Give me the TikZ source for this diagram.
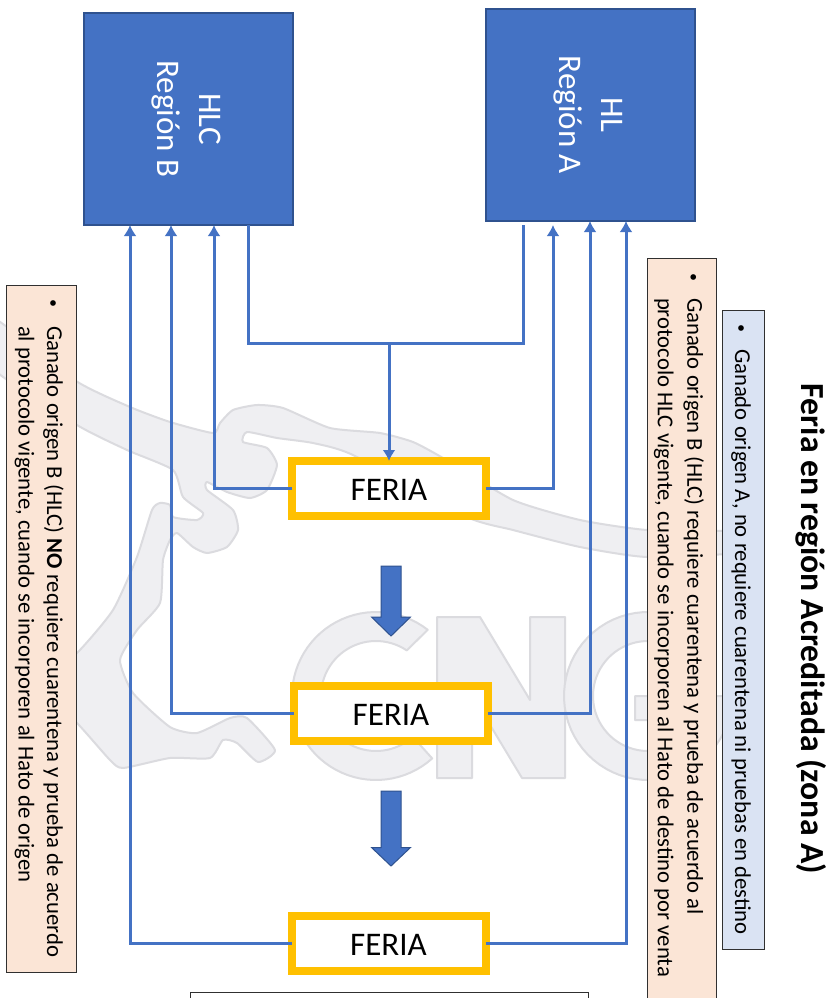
\documentclass[tikz,border=0pt]{standalone}
\usepackage{fontspec}
\setmainfont{Carlito}
\usetikzlibrary{arrows.meta}
\definecolor{bluefill}{HTML}{4472C4}
\definecolor{bluedark}{HTML}{2F528F}
\definecolor{feriayellow}{HTML}{FFC000}
\definecolor{peach}{HTML}{FBE5D6}
\definecolor{paleblue}{HTML}{DAE3F3}
\definecolor{wmfill}{HTML}{EFEFF2}
\definecolor{wmline}{HTML}{DBDBDF}
\definecolor{edgedark}{HTML}{303030}
\tikzset{
  herd/.style={draw=bluedark,fill=bluefill,line width=1.5pt,minimum width=212pt,minimum height=209pt,inner sep=0pt,outer sep=0pt,text=white,rotate=-90,align=center,font=\fontsize{33}{42}\selectfont},
  fair/.style={draw=feriayellow,fill=white,line width=8pt,minimum width=194pt,minimum height=55pt,inner sep=0pt,outer sep=0pt,font=\fontsize{33}{38}\selectfont},
  conn/.style={draw=bluefill,line width=3pt},
  connarrow/.style={conn,-{Latex[length=11pt,width=13pt]}},
  notepeach/.style={draw=edgedark,fill=peach,line width=0.9pt},
  noteblue/.style={draw=edgedark,fill=paleblue,line width=0.9pt},
  bigarrow/.style={draw=bluedark,fill=bluefill,line width=1pt},
  notetext/.style={rotate=-90,anchor=north west,inner sep=0pt,outer sep=0pt,align=left},
  wm/.style={draw=wmline,fill=wmfill,line width=2pt,line join=round},
}
\newcommand{\bulleted}[2]{\begin{tabular}{@{}p{#1}@{}l@{}}#2\end{tabular}}
\newcommand{\smallbullet}{\raisebox{1.5pt}{\fontsize{16}{16}\selectfont•}}
\newcommand{\fairlabel}{\raisebox{-1.5pt}[\height][0pt]{FERIA}}
\begin{document}
\begin{tikzpicture}[x=1pt,y=-1pt]
\clip (0,0) rectangle (831,998);
\fill[white] (0,0) rectangle (831,998);
% watermark map
\draw[wm] plot[smooth cycle,tension=0.35] coordinates {
 (-10,316) (76,381) (130,407) (170,422) (213,433) (220,423) (233,410) (257,405) (283,408) (330,428)
 (380,433) (413,442) (443,458) (513,500) (580,520) (647,530) (745,532)
 (745,552) (647,557) (580,547) (513,530) (467,517) (353,455) (313,443) (277,438) (247,432)
 (243,442) (267,448) (277,465) (267,490) (250,498) (227,492) (207,482) (207,490) (233,510)
 (238,530) (227,547) (207,553) (193,547) (177,533) (170,540) (163,560) (160,603) (137,630)
 (120,660) (133,693) (170,727) (197,733) (230,718) (247,718) (275,750) (258,762) (237,743)
 (223,740) (210,758) (170,758) (123,768) (110,760) (77,723) (40,690) (40,680) (77,653) (113,610)
 (137,557) (152,510) (160,503) (170,505) (173,517) (197,520) (203,513) (183,497) (173,470)
 (127,450) (77,425) (-10,366)};
% watermark letters
\draw[wm] plot[domain=-52:-312,samples=60] ({376+84*cos(\x)},{696+84*sin(\x)})
  -- plot[domain=-312:-56,samples=60] ({376+55*cos(\x)},{696+55*sin(\x)}) -- cycle;
\draw[wm] (437,617) -- (480,617) -- (530,700) -- (530,617) -- (565,617) -- (565,778) -- (522,778) -- (472,695) -- (472,778) -- (437,778) -- cycle;
\draw[wm] plot[domain=-52:-360,samples=60] ({648+84*cos(\x)},{696+84*sin(\x)})
  -- (635,696) -- (635,720) -- (690,720)
  -- plot[domain=-335:-56,samples=60] ({648+55*cos(\x)},{696+55*sin(\x)}) -- cycle;
% note boxes
\path[notepeach] (6,285) rectangle (76,972);
\path[notepeach] (647,258) rectangle (716,1010);
\path[noteblue] (722,310) rectangle (764,949);
\draw[draw=edgedark,fill=white,line width=0.9pt] (190,992) rectangle (588,1012);
% text of notes
\node[notetext] (noteB) at (67,299) {\fontsize{22.7}{28.5}\selectfont\bulleted{27pt}{\smallbullet & Ganado origen B (HLC) \textbf{NO} requiere cuarentena y prueba de acuerdo\\ & al protocolo vigente, cuando se incorporen al Hato de origen}};
\node[notetext] (noteBA) at (708,273) {\fontsize{22.7}{29.5}\selectfont\bulleted{25pt}{\smallbullet & Ganado origen B (HLC) requiere cuarentena y prueba de acuerdo al\\ & protocolo HLC vigente, cuando se incorporen al Hato de destino por venta}};
\node[notetext] (noteA) at (752,324) {\fontsize{22.7}{24}\selectfont\bulleted{25pt}{\smallbullet & Ganado origen A, no requiere cuarentena ni pruebas en destino}};
\node[rotate=-90,anchor=center,inner sep=0pt,font=\fontsize{33.7}{38}\selectfont\bfseries] (title) at (811,629) {Feria en región Acreditada (zona A)};
% herd boxes
\node[herd] (hlc) at (188.5,119) {\rule{0pt}{25pt}HLC\\Región B};
\node[herd] (hl) at (590.5,115) {\rule{0pt}{25pt}HL\\Región A};
% ferias
\node[fair] (f1) at (389,488.5) {\fairlabel};
\node[fair] (f2) at (391,713.5) {\fairlabel};
\node[fair] (f3) at (388.5,943.5) {\fairlabel};
% connector ends
\coordinate (outB) at (248,225);
\coordinate (outA) at (523,225);
\coordinate (midB) at (248,343);
\coordinate (midA) at (523,343);
\coordinate (join) at (389,343);
\coordinate (inB1) at (214,225);
\coordinate (inB2) at (171,225);
\coordinate (inB3) at (130,225);
\coordinate (inA1) at (553,225);
\coordinate (inA2) at (590,221);
\coordinate (inA3) at (626,221);
% connectors
\path[conn] (outB) -- (midB) -- (midA) -- (outA);
\path[connarrow] (join) -- (f1.north);
\path[connarrow] (f1.west) -| (inB1);
\path[connarrow] (f1.east) -| (inA1);
\path[connarrow] (f2.west) -| (inB2);
\path[connarrow] (f2.east) -| (inA2);
\path[connarrow] (f3.west) -| (inB3);
\path[connarrow] (f3.east) -| (inA3);
% block arrows
\path[bigarrow] (381,566) -- (401,566) -- (401,617) -- (410.5,617) -- (391,636) -- (371.5,617) -- (381,617) -- cycle;
\path[bigarrow] (381,791) -- (401,791) -- (401,847.5) -- (410.5,847.5) -- (391,866) -- (371.5,847.5) -- (381,847.5) -- cycle;
\end{tikzpicture}
\end{document}
